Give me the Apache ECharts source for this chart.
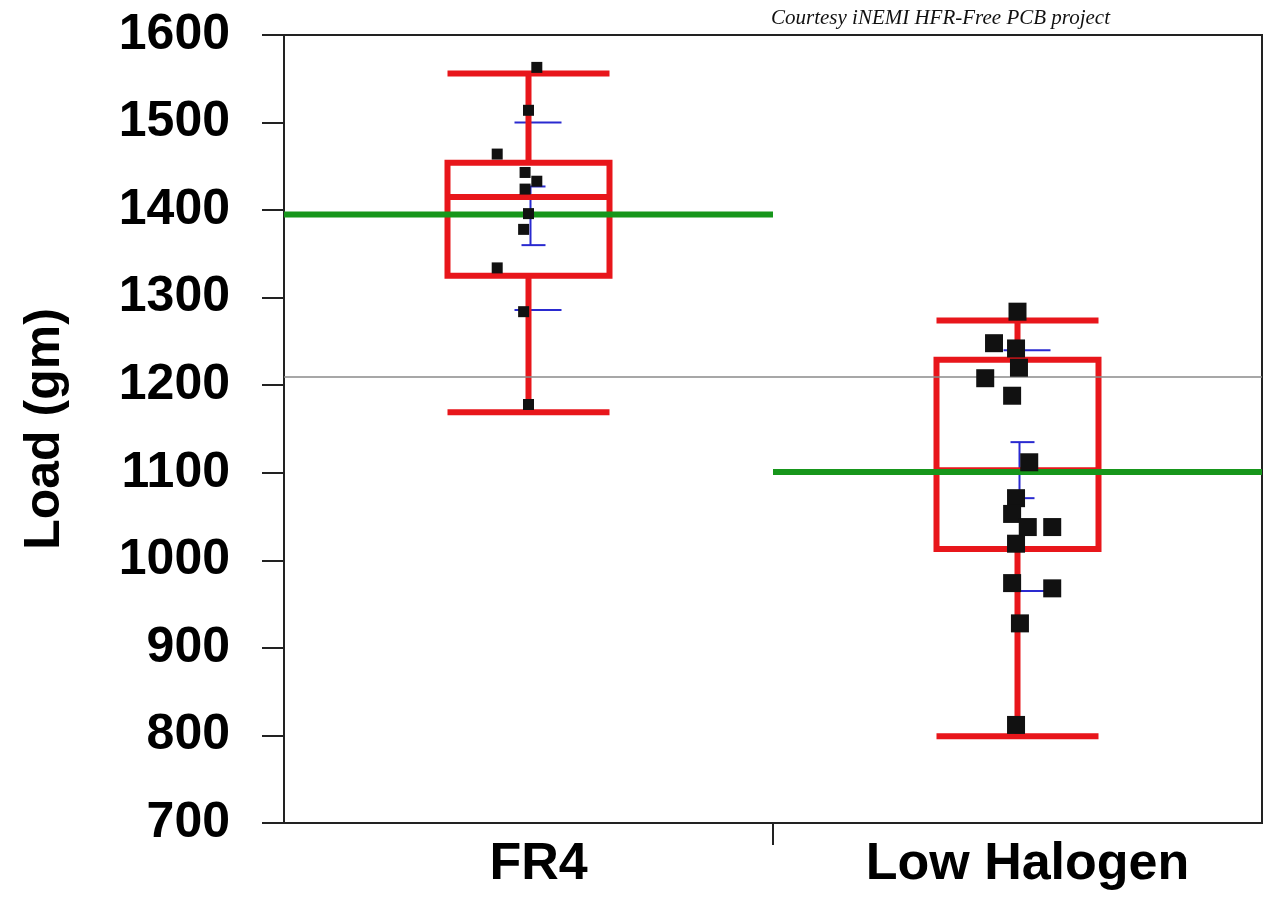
<!DOCTYPE html>
<html>
<head>
<meta charset="utf-8">
<title>Load by laminate</title>
<script src="https://cdn.jsdelivr.net/npm/echarts@6/dist/echarts.min.js"></script>
<style>
html, body { margin: 0; padding: 0; background: #fff; }
#container { width: 1268px; height: 901px; }
</style>
</head>
<body>
<div id="container"></div>
<script>
// data
var categories = ['FR4', 'Low Halogen'];
var yMin = 700, yMax = 1600, yStep = 100;

// [min, Q1, median, Q3, max]
var boxStats = [
	[1169, 1325, 1415, 1454, 1556],
	[799, 1013, 1103, 1229, 1274]
];
var meanLoads = [1395, 1101];
var sdLow = [1286, 965];
var sdHigh = [1500, 1240];
var ciLow = [1360, 1071];
var ciHigh = [1427, 1135];
var grandMean = 1210;

var fr4Loads = [1563, 1514, 1464, 1443, 1433, 1424, 1396, 1378, 1334, 1284, 1178];
var fr4Jitter = [0.017, 0, -0.064, -0.007, 0.017, -0.007, 0, -0.01, -0.064, -0.01, 0];
var lhLoads = [1284, 1248, 1242, 1220, 1208, 1188, 1112, 1071, 1053, 1038, 1038, 1019, 974, 968, 928, 812];
var lhJitter = [0, -0.048, -0.003, 0.003, -0.066, -0.011, 0.024, -0.003, -0.011, 0.021, 0.071, -0.003, -0.011, 0.071, 0.005, -0.003];

var RED = '#e8161b';
var GREEN = '#17961b';
var BLUE = '#2a2ad0';

var app = (function() {
	var dom = document.getElementById('container');
	var myChart = echarts.init(dom);

	function toPoints(loads, jitter, center) {
		return loads.map(function(v, i) {
			return [center + jitter[i], v];
		});
	}

	// mean line per group: [xStart, xEnd, value] on the 0..2 axis
	var meanLines = meanLoads.map(function(v, i) {
		return [i, i + 1, v];
	});
	var errorBars = categories.map(function(c, i) {
		return [i + 0.5, sdLow[i], ciLow[i], ciHigh[i], sdHigh[i]];
	});

	function renderMean(params, api) {
		var p1 = api.coord([api.value(0), api.value(2)]);
		var p2 = api.coord([api.value(1), api.value(2)]);
		return {
			type: 'line',
			shape: { x1: p1[0], y1: p1[1], x2: p2[0], y2: p2[1] },
			style: { stroke: GREEN, lineWidth: 6 }
		};
	}

	function renderErrorBar(params, api) {
		var x = api.value(0);
		var sdL = api.coord([x, api.value(1)]);
		var ciL = api.coord([x, api.value(2)]);
		var ciH = api.coord([x, api.value(3)]);
		var sdH = api.coord([x, api.value(4)]);
		var cx = sdL[0];
		var st = { stroke: BLUE, lineWidth: 2 };
		function hline(y, a, b) {
			return { type: 'line', shape: { x1: cx + a, y1: y, x2: cx + b, y2: y }, style: st };
		}
		return {
			type: 'group',
			children: [
				{ type: 'line', shape: { x1: cx + 2, y1: ciH[1], x2: cx + 2, y2: ciL[1] }, style: st },
				hline(ciH[1], -7, 17),
				hline(ciL[1], -7, 17),
				hline(sdH[1], -14, 33),
				hline(sdL[1], -14, 33)
			]
		};
	}

	myChart.setOption({
		animation: false,
		backgroundColor: '#fff',
		title: {
			text: 'Courtesy iNEMI HFR-Free PCB project',
			right: 158,
			top: 8,
			padding: 0,
			textStyle: {
				fontFamily: 'Liberation Serif',
				fontStyle: 'italic',
				fontWeight: 'normal',
				fontSize: 21,
				color: '#111'
			}
		},
		grid: {
			left: 284,
			right: 6,
			top: 35,
			bottom: 78,
			show: true,
			borderColor: '#222',
			borderWidth: 2,
			backgroundColor: 'transparent'
		},
		xAxis: [{
			type: 'category',
			data: categories,
			boundaryGap: true,
			axisLine: { lineStyle: { color: '#222', width: 2 } },
			axisTick: { show: false },
			splitLine: { show: false },
			axisLabel: {
				margin: 16,
				padding: [0, 0, 0, 20],
				fontFamily: 'Liberation Sans',
				fontWeight: 'bold',
				fontSize: 52,
				color: '#000'
			}
		}, {
			type: 'value',
			min: 0,
			max: 2,
			interval: 1,
			position: 'bottom',
			axisLine: { show: false },
			axisTick: { show: true, customValues: [1], length: 22, lineStyle: { color: '#222', width: 2 } },
			axisLabel: { show: false },
			splitLine: { show: false }
		}],
		yAxis: {
			type: 'value',
			min: yMin,
			max: yMax,
			interval: yStep,
			name: 'Load (gm)',
			nameLocation: 'middle',
			nameRotate: 90,
			nameGap: 214,
			nameTextStyle: {
				fontFamily: 'Liberation Sans',
				fontWeight: 'bold',
				fontSize: 50,
				color: '#000'
			},
			axisLine: { show: true, lineStyle: { color: '#222', width: 2 } },
			axisTick: { show: true, length: 22, lineStyle: { color: '#222', width: 2 } },
			splitLine: { show: false },
			axisLabel: {
				margin: 54,
				formatter: function(v) { return String(v); },
				fontFamily: 'Liberation Sans',
				fontWeight: 'bold',
				fontSize: 50,
				color: '#000'
			}
		},
		series: [{
			type: 'custom',
			name: 'grand mean',
			xAxisIndex: 1,
			data: [],
			silent: true,
			z: 1,
			markLine: {
				silent: true,
				symbol: 'none',
				label: { show: false },
				lineStyle: { color: '#8a8a8a', width: 1.5, type: 'solid' },
				data: [{ yAxis: grandMean }]
			},
			renderItem: function() { return null; }
		}, {
			type: 'custom',
			name: 'error bars',
			xAxisIndex: 1,
			data: errorBars,
			silent: true,
			z: 2,
			renderItem: renderErrorBar
		}, {
			type: 'boxplot',
			name: 'box',
			xAxisIndex: 0,
			data: boxStats,
			boxWidth: [162, 162],
			silent: true,
			z: 3,
			itemStyle: {
				color: 'rgba(0,0,0,0)',
				borderColor: RED,
				borderWidth: 6
			}
		}, {
			type: 'custom',
			name: 'mean',
			xAxisIndex: 1,
			data: meanLines,
			silent: true,
			z: 4,
			renderItem: renderMean
		}, {
			type: 'scatter',
			name: 'FR4 points',
			xAxisIndex: 1,
			data: toPoints(fr4Loads, fr4Jitter, 0.5),
			symbol: 'rect',
			symbolSize: 11,
			silent: true,
			z: 5,
			itemStyle: { color: '#111', opacity: 1 }
		}, {
			type: 'scatter',
			name: 'Low Halogen points',
			xAxisIndex: 1,
			data: toPoints(lhLoads, lhJitter, 1.5),
			symbol: 'rect',
			symbolSize: 18,
			silent: true,
			z: 5,
			itemStyle: { color: '#111', opacity: 1 }
		}]
	});

	return {
		resize: function() {
			myChart.resize();
		}
	};
})();

window.addEventListener('resize', function() {
	app.resize();
});
</script>
</body>
</html>
